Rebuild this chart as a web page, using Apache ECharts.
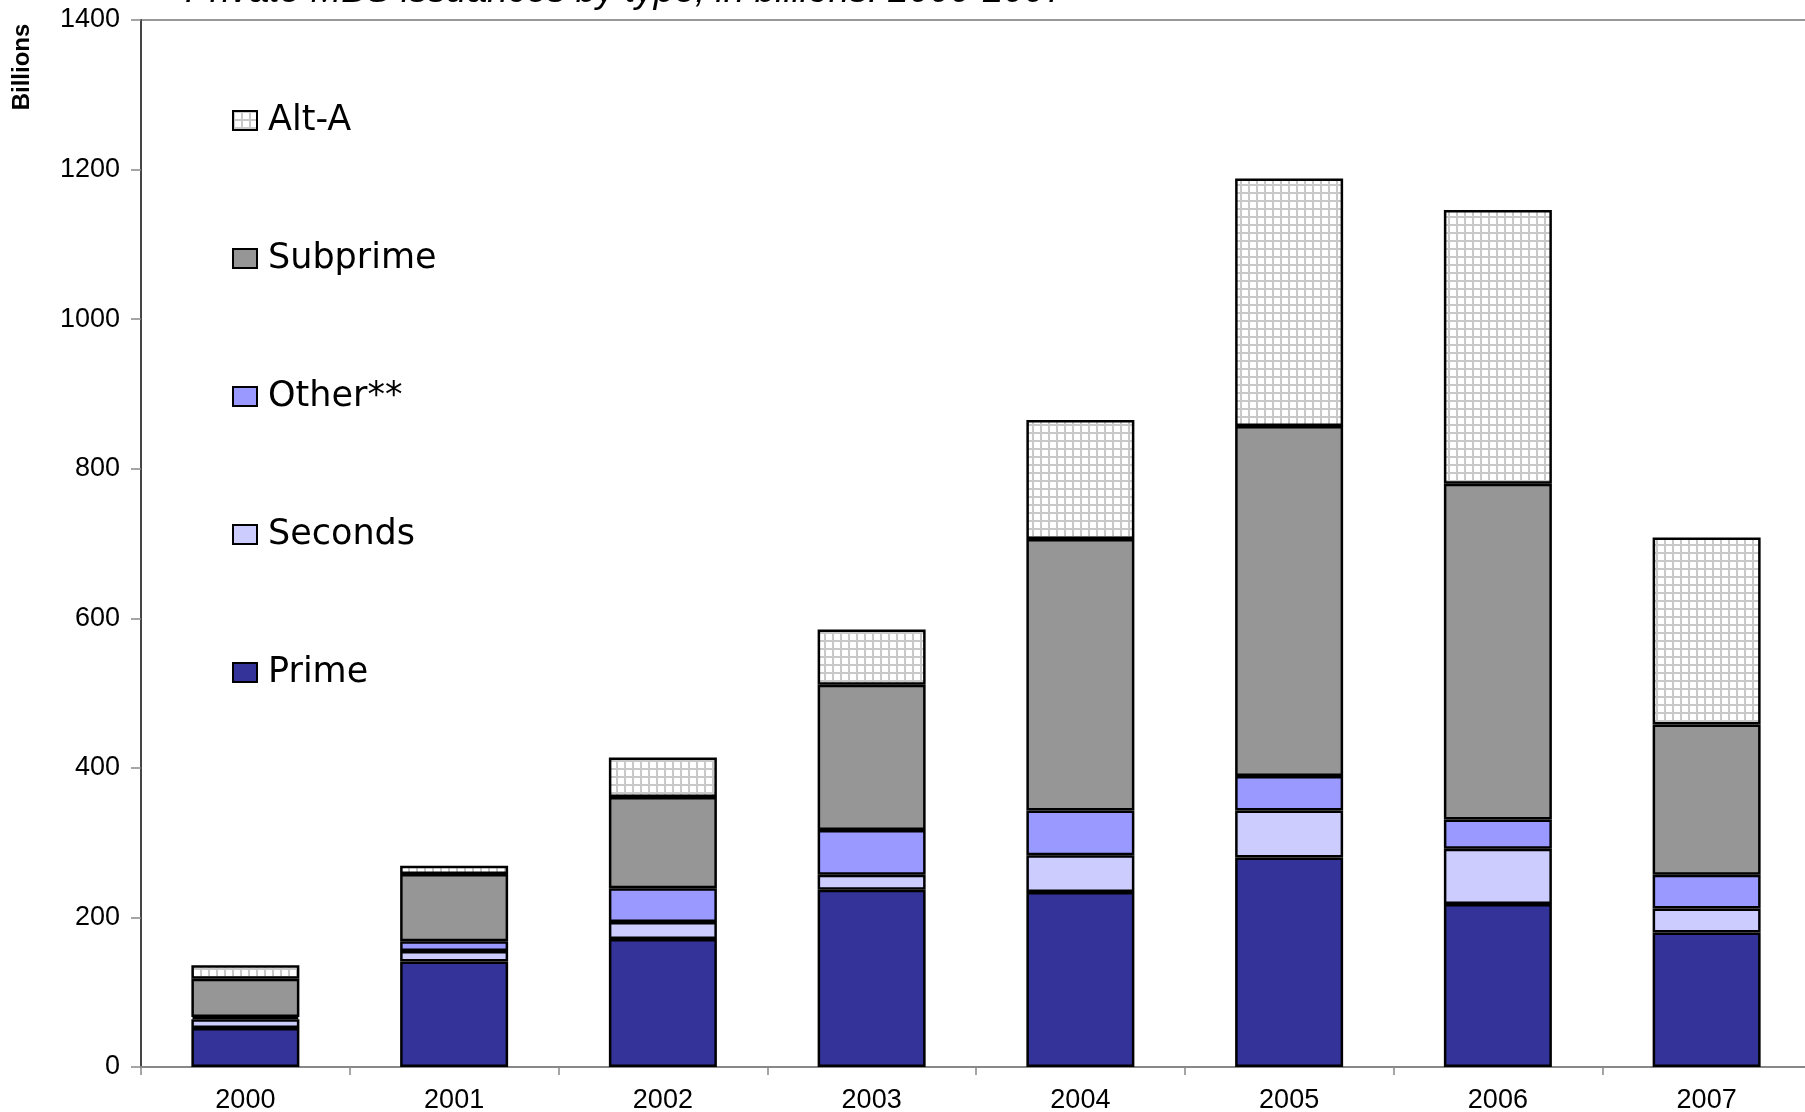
<!DOCTYPE html>
<html>
<head>
<meta charset="utf-8">
<script src="https://cdn.jsdelivr.net/npm/echarts@6/dist/echarts.min.js"></script>
<style>
  html, body { margin: 0; padding: 0; background: #fff; }
  #chart { width: 1805px; height: 1112px; }
</style>
</head>
<body>
<div id="chart"></div>
<script>
var years = ['2000', '2001', '2002', '2003', '2004', '2005', '2006', '2007'];
var prime = [52, 141, 171, 237, 234, 280, 218, 180];
var seconds = [12, 14, 23, 20, 49, 63, 74, 32];
var other = [3, 13, 45, 60, 60, 46, 39, 45];
var subprime = [51, 90, 122, 194, 363, 468, 449, 201];
var altA = [18, 11, 53, 74, 159, 331, 366, 250];
var legendOrder = ['Alt-A', 'Subprime', 'Other**', 'Seconds', 'Prime'];

var FONT = 'Liberation Sans, Arial, sans-serif';

// light grey grid pattern used for Alt-A
function gridPattern() {
  var c = document.createElement('canvas');
  c.width = 8;
  c.height = 8;
  var ctx = c.getContext('2d');
  ctx.fillStyle = '#ffffff';
  ctx.fillRect(0, 0, 8, 8);
  ctx.fillStyle = '#c8c8c8';
  ctx.fillRect(0, 0, 8, 2);
  ctx.fillRect(0, 0, 2, 8);
  return c;
}

function barSeries(name, data, color) {
  return {
    name: name,
    type: 'bar',
    stack: 'mbs',
    barWidth: 108,
    itemStyle: {
      color: color,
      borderColor: '#000',
      borderWidth: 2.5
    },
    data: data
  };
}

var option = {
  animation: false,
  backgroundColor: '#fff',
  grid: {
    left: 141,
    top: 20,
    right: -6,
    bottom: 45,
    outerBoundsMode: 'none',
    show: true,
    borderColor: '#999',
    borderWidth: 2
  },
  graphic: [{
    type: 'text',
    x: 185,
    y: -8,
    style: {
      text: 'Private MBS issuances by type, in billions: 2000-2007',
      font: 'italic 37px Liberation Sans, Arial, sans-serif',
      fill: '#000',
      verticalAlign: 'middle'
    }
  }, {
    type: 'text',
    x: 22,
    y: 67,
    rotation: Math.PI / 2,
    style: {
      text: 'Billions',
      font: 'bold 24px Liberation Sans, Arial, sans-serif',
      fill: '#000',
      align: 'center',
      verticalAlign: 'middle'
    }
  }],
  legend: {
    orient: 'vertical',
    left: 227,
    top: 98,
    itemGap: 103,
    itemWidth: 24,
    itemHeight: 19,
    icon: 'rect',
    data: legendOrder,
    textStyle: {
      fontFamily: 'DejaVu Sans, sans-serif',
      fontSize: 35,
      lineHeight: 35,
      color: '#000',
      padding: [0, 0, 0, 6]
    }
  },
  xAxis: {
    type: 'category',
    data: years,
    axisLine: { lineStyle: { color: '#888', width: 2 } },
    axisTick: { show: true, length: 8, lineStyle: { color: '#888', width: 1.5 } },
    axisLabel: { color: '#000', fontFamily: FONT, fontSize: 27, margin: 20 }
  },
  yAxis: {
    type: 'value',
    min: 0,
    max: 1400,
    interval: 200,
    splitLine: { show: false },
    axisLine: { show: true, lineStyle: { color: '#444', width: 2 } },
    axisTick: { show: true, length: 10, lineStyle: { color: '#888', width: 1.5 } },
    axisLabel: {
      color: '#000',
      fontFamily: FONT,
      fontSize: 27,
      margin: 21,
      formatter: function (v) { return String(v); }
    }
  },
  series: [
    barSeries('Prime', prime, '#333399'),
    barSeries('Seconds', seconds, '#ccccff'),
    barSeries('Other**', other, '#9999ff'),
    barSeries('Subprime', subprime, '#969696'),
    barSeries('Alt-A', altA, { image: gridPattern(), repeat: 'repeat' })
  ]
};

var chart = echarts.init(document.getElementById('chart'));
chart.setOption(option);
</script>
</body>
</html>
